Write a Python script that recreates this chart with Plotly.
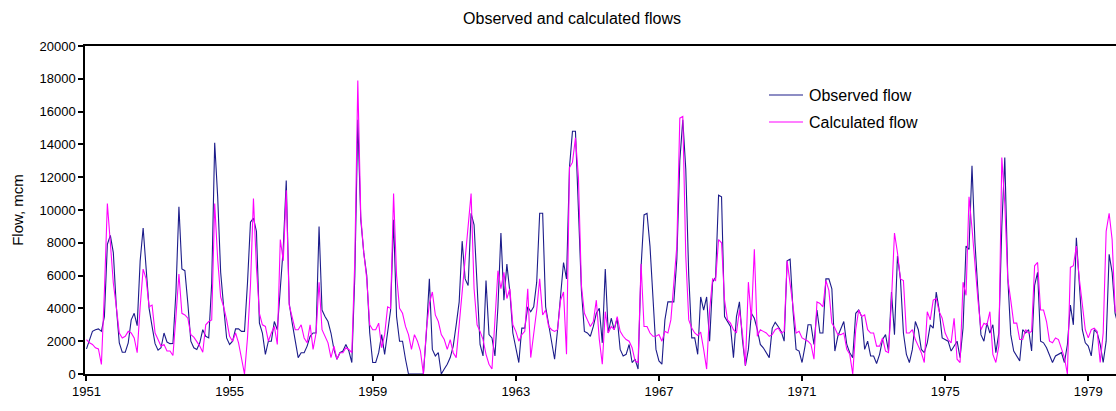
import plotly.graph_objects as go

# Monthly flows (mcm), Jan 1951 onwards
observed_flow = [
    1535, 2100, 2600, 2700, 2750, 2600, 3500, 7900, 8450, 7400, 4100, 1900,
    1330, 1330, 1900, 3300, 3700, 2950, 6900, 8900, 6200, 4000, 2900, 1850,
    1450, 1600, 2500, 1950, 1850, 1860, 5000, 10200, 6400, 6300, 4300, 2000,
    1600, 1500, 1900, 2700, 2300, 2200, 5550, 14100, 10800, 6200, 4100, 2200,
    1800, 2000, 2750, 2750, 2600, 2600, 5550, 9260, 9500, 8700, 3100, 2500,
    1200, 2000, 2000, 3200, 2700, 5400, 7700, 11800, 4300, 3100, 2100, 1000,
    1300, 1300, 1700, 2300, 2500, 2500, 9000, 3900, 3500, 3200, 2500, 1500,
    900, 1300, 1400, 1800, 1400, 700, 6000, 15500, 9400, 7400, 6000, 2500,
    700, 700, 1300, 2400, 1200, 2400, 3900, 9400, 3500, 2000, 2000, 900,
    0, 0, 0, 0, 0, 0, 2500, 5800, 1500, 1100, 1300, 0,
    300, 600, 1000, 1700, 3000, 4400, 8100, 5800, 5400, 9800, 9100, 5000,
    1800, 1100, 5700, 2400, 2200, 1100, 4100, 8600, 4500, 6700, 5000, 2500,
    1700, 700, 2800, 2800, 4100, 3800, 4100, 5600, 9800, 9800, 4100, 3100,
    2100, 900, 2700, 4900, 6800, 5800, 12600, 14800, 14800, 10000, 5100, 2600,
    2500, 2300, 2900, 3700, 4000, 1900, 6400, 2500, 3400, 2700, 3400, 1500,
    1100, 1200, 1800, 700, 900, 300, 6500, 9700, 9800, 7800, 4500, 1500,
    800, 600, 3300, 4400, 4400, 4400, 7000, 13000, 15500, 12500, 6000, 2200,
    2200, 1200, 4700, 3900, 4700, 2000, 5600, 5900, 10900, 10800, 3500, 3200,
    2900, 1000, 3500, 4400, 2100, 500, 1500, 3700, 3400, 2700, 1800, 1600,
    1300, 1000, 2800, 3150, 2900, 2600, 2000, 6900, 7000, 3800, 1500, 1400,
    700, 1700, 3000, 3000, 1800, 3900, 2500, 2500, 5800, 5800, 5200, 1400,
    2300, 2700, 3200, 1800, 1300, 1000, 3700, 3900, 3500, 1500, 2000, 1100,
    1100, 640, 1200, 2100, 2400, 1400, 5000, 2400, 7200, 5800, 2500, 1200,
    700, 1500, 3200, 2700, 1500, 1300, 1900, 3000, 2800, 5000, 3900, 2200,
    2100, 2000, 1400, 1700, 2000, 1000, 2800, 7800, 7600, 12700, 8000, 5000,
    2400, 2000, 3100, 2500, 3000, 1300, 2500, 9000, 13200, 5900, 2400, 1400,
    1100, 800, 2700, 2500, 2700, 1400, 5400, 6200, 2000, 1900, 1600, 1100,
    700, 1100, 1200, 1300, 700, 1800, 4200, 3000, 8300, 5500, 2700, 1900,
    1700, 1100, 2700, 2500, 1800, 700, 2000, 7300, 6200, 3700, 3000,
]

calculated_flow = [
    2100, 1900, 1800, 1600, 1530, 580, 5000, 10400, 8000, 5550, 4100, 2500,
    2200, 2300, 2600, 2500, 2200, 1300, 4100, 6400, 5800, 4100, 4200, 2500,
    2100, 1700, 1800, 1400, 1400, 1130, 3500, 6100, 3700, 3600, 3400, 2400,
    2250, 2000, 1700, 1330, 3000, 3200, 3300, 10400, 7000, 4700, 4100, 3300,
    2300, 2000, 2500, 1900, 900, 0, 2200, 5400, 10700, 6500, 3700, 3000,
    2900, 2000, 2500, 2900, 1800, 8200, 6900, 11200, 4200, 3500, 2700, 2700,
    3000, 2200, 1900, 3000, 1500, 2500, 5600, 2700, 2300, 1900, 1000, 1700,
    900, 1300, 1300, 1600, 1500, 1300, 7000, 17900, 9600, 7400, 5800, 3000,
    2700, 2700, 3100, 1600, 2400, 4100, 4000, 11000, 6000, 4000, 3700, 2900,
    2400, 1500, 2400, 2000, 1400, 0, 2700, 4300, 5000, 3600, 3200, 2400,
    2100, 1500, 2100, 1300, 1000, 3100, 4900, 7200, 9400, 11000, 5200, 3000,
    2600, 2100, 1200, 600, 300, 3100, 6300, 5200, 6200, 4600, 5200, 3000,
    2600, 2000, 2400, 2600, 5200, 1000, 2500, 3900, 5800, 3600, 3900, 2900,
    2700, 2600, 2700, 4500, 5000, 1200, 12600, 12900, 14400, 12000, 5400, 3700,
    3300, 2900, 3200, 4500, 2100, 600, 3800, 2500, 2900, 2700, 3500, 2600,
    2300, 2100, 2000, 1600, 800, 700, 6700, 2900, 2900, 2500, 2300, 2300,
    2400, 2000, 2600, 2500, 3300, 5300, 7800, 15600, 15700, 7200, 3300, 2800,
    2500, 2350, 2550, 1500, 300, 3900, 5800, 5700, 8200, 8000, 4500, 3300,
    3100, 2700, 2500, 3900, 2500, 500, 5600, 3300, 7600, 2300, 2700, 2600,
    2500, 2300, 2400, 2700, 2800, 2500, 2600, 6900, 5600, 4100, 2500, 2600,
    2200, 2100, 2000, 1800, 900, 4400, 4300, 4100, 5700, 5100, 3100, 2800,
    2400, 2400, 2500, 1500, 1200, 0, 2700, 3900, 3500, 3600, 2700, 2500,
    2500, 1700, 1700, 2200, 1400, 1300, 4500, 8600, 7400, 5800, 5700, 2500,
    2500, 2700, 2100, 1700, 1300, 700, 3800, 3300, 4500, 4600, 3800, 3400,
    2500, 2100, 1900, 3400, 900, 700, 5600, 4800, 10800, 8900, 6600, 4500,
    2700, 3100, 3000, 3800, 1200, 700, 1700, 13200, 10400, 5800, 4500, 3100,
    3100, 2100, 2100, 2700, 2500, 2600, 6600, 6800, 3900, 3900, 3200, 2000,
    1900, 2200, 2100, 1500, 1000, 0, 6500, 6600, 7800, 5800, 4100, 2700,
    2200, 2700, 2800, 2600, 700, 2500, 8700, 9800, 8200, 3900, 3500,
]

year_labels = ["1951", "1955", "1959", "1963", "1967", "1971", "1975", "1979"]
months_per_label = 48

series_names = ["Observed flow", "Calculated flow"]
series_colors = ["#1c1c8a", "#ff00ff"]

month_index = list(range(len(observed_flow)))
tick_positions = [i * months_per_label for i in range(len(year_labels))]

FONT = "Liberation Sans, Arial, sans-serif"

# layout geometry in pixels
W, H = 1116, 411
ML, MR, MT, MB = 85, 0, 46, 37
PW, PH = W - ML - MR, H - MT - MB


def px_to_paper_x(px):
    return (px - ML) / PW


def px_to_paper_y(py):
    return (H - MB - py) / PH


fig = go.Figure()
for vals, name, color in zip([observed_flow, calculated_flow], series_names, series_colors):
    fig.add_trace(go.Scatter(
        x=month_index, y=vals, mode="lines", name=name,
        line=dict(color=color, width=1.1), showlegend=False,
    ))

# legend drawn inside the plot (line sample + label)
legend_rows_py = [95, 122]
for name, color, py in zip(series_names, series_colors, legend_rows_py):
    fig.add_shape(type="line", xref="paper", yref="paper",
                  x0=px_to_paper_x(769), x1=px_to_paper_x(803),
                  y0=px_to_paper_y(py), y1=px_to_paper_y(py),
                  line=dict(color=color, width=1.2))
    fig.add_annotation(x=px_to_paper_x(807), y=px_to_paper_y(py), xref="paper", yref="paper",
                       text=name, showarrow=False, xanchor="left", yanchor="middle",
                       font=dict(family=FONT, size=16, color="black"))

fig.update_layout(
    width=W, height=H,
    margin=dict(l=ML, r=MR, t=MT, b=MB),
    paper_bgcolor="white", plot_bgcolor="white",
    font=dict(family=FONT, size=13, color="black"),
    title=dict(text="Observed and calculated flows", x=572 / W, xanchor="center",
               y=1 - 18 / H, yanchor="middle", yref="container",
               font=dict(family=FONT, size=16, color="black")),
    showlegend=False,
)
fig.update_xaxes(
    range=[-0.5, 345.3], tickmode="array", tickvals=tick_positions,
    ticktext=year_labels, ticks="outside", ticklen=5, tickwidth=1.5,
    tickcolor="black", showline=True, linecolor="black", linewidth=1.5,
    mirror=True, showgrid=False, zeroline=False,
    tickfont=dict(family=FONT, size=13, color="black"),
)
fig.update_yaxes(
    range=[0, 20000], tick0=0, dtick=2000, ticks="outside", ticklen=5,
    tickwidth=1.5, tickcolor="black", showline=True, linecolor="black",
    linewidth=1.5, mirror=False, showgrid=False, zeroline=False,
    tickformat="d", tickfont=dict(family=FONT, size=13, color="black"),
    title=dict(text="Flow, mcm", standoff=12,
               font=dict(family=FONT, size=15, color="black")),
)

fig.write_html("out.html")
